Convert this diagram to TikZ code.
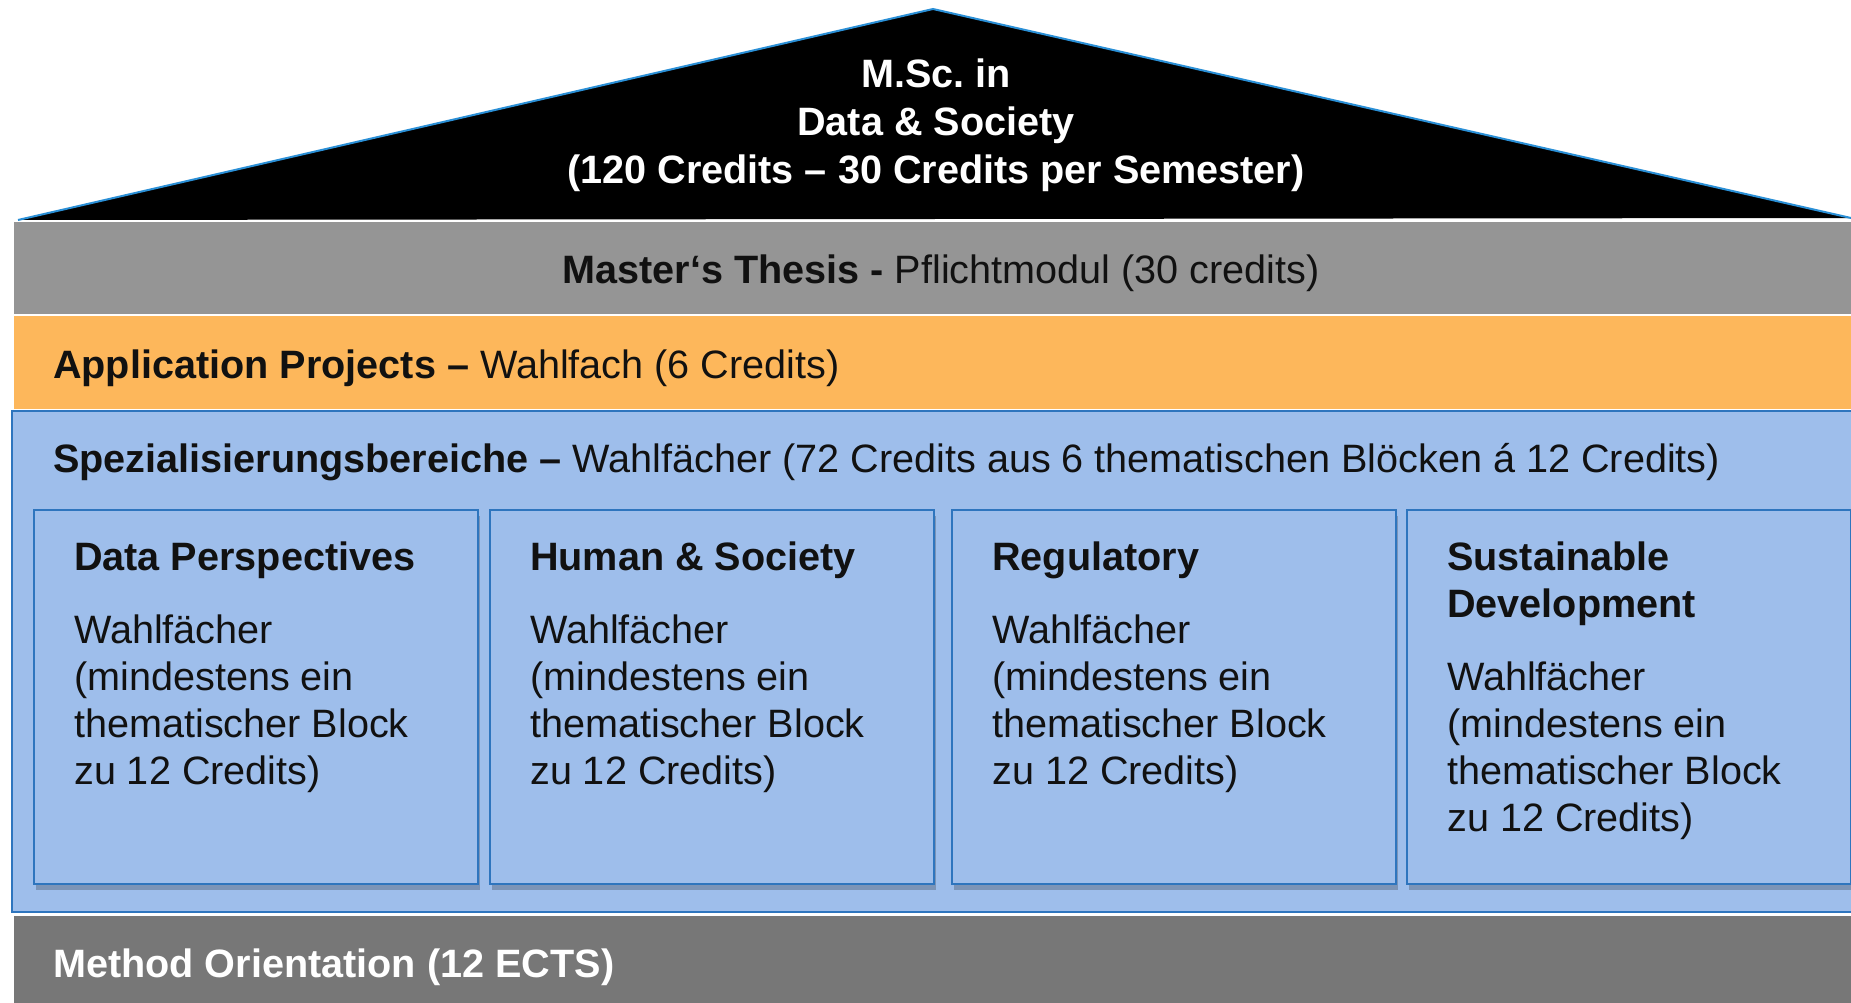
\documentclass[tikz,border=0pt]{standalone}
\usepackage{fontspec}
\setmainfont{Liberation Sans}
\usetikzlibrary{shadows}
\frenchspacing
\definecolor{txt}{HTML}{111111}
\definecolor{roofblue}{HTML}{2A8FD6}
\definecolor{thesisgray}{HTML}{959595}
\definecolor{apporange}{HTML}{FDB75B}
\definecolor{bluefill}{HTML}{9EBEEB}
\definecolor{blueborder}{HTML}{2E75BE}
\definecolor{methodgray}{HTML}{777777}
\newcommand\mystrut{\rule{0pt}{32pt}}
\tikzset{
  lbl/.style={inner sep=0pt, text=txt, font=\fontsize{39.6}{47}\selectfont},
  blk/.style={draw=blueborder, fill=bluefill, line width=2.2pt, minimum width=444pt, minimum height=374pt, anchor=north west, inner sep=0pt,
    drop shadow={shadow xshift=2pt, shadow yshift=-6pt, opacity=0.22, fill=black}},
  blktext/.style={lbl, align=left, anchor=north west}
}
\begin{document}
\begin{tikzpicture}[x=1pt,y=-1pt]
\useasboundingbox (0,0) rectangle (1851,1003);
\fill[white] (0,0) rectangle (1851,1003);
% roof
\filldraw[fill=black, draw=roofblue, line width=2pt] (18,220) -- (933,9) -- (1851,218);
\node[lbl, anchor=north, align=center, text=white, font=\fontsize{39.6}{48}\selectfont\bfseries] (roof) at (936,55)
  {\mystrut M.Sc. in\\Data \& Society\\(120 Credits – 30 Credits per Semester)};
% bands
\fill[thesisgray] (14,222) rectangle (1851,314);
\node[lbl, anchor=base] (thesis) at (941,283) {\textbf{Master‘s Thesis -} Pflichtmodul (30 credits)};
\fill[apporange] (14,316) rectangle (1851,409);
\node[lbl, anchor=base west] (app) at (53,378) {\textbf{Application Projects –} Wahlfach (6 Credits)};
\filldraw[fill=bluefill, draw=blueborder, line width=2pt] (12,411) rectangle (1875,912);
\node[lbl, anchor=base west] (spez) at (53,472) {\textbf{Spezialisierungsbereiche –} Wahlfächer (72 Credits aus 6 thematischen Blöcken á 12 Credits)};
\fill[methodgray] (14,916) rectangle (1851,1003);
\node[lbl, anchor=base west, text=white] (method) at (53,977) {\textbf{Method Orientation (12 ECTS)}};
% blocks
\node[blk] (b1) at (33,509) {};
\node[blk] (b2) at (489,509) {};
\node[blk] (b3) at (951,509) {};
\node[blk] (b4) at (1406,509) {};
\node[blktext] (t1) at (74,538) {\mystrut\textbf{Data Perspectives}\\[26pt]Wahlfächer\\(mindestens ein\\thematischer Block\\zu 12 Credits)};
\node[blktext] (t2) at (530,538) {\mystrut\textbf{Human \& Society}\\[26pt]Wahlfächer\\(mindestens ein\\thematischer Block\\zu 12 Credits)};
\node[blktext] (t3) at (992,538) {\mystrut\textbf{Regulatory}\\[26pt]Wahlfächer\\(mindestens ein\\thematischer Block\\zu 12 Credits)};
\node[blktext] (t4) at (1447,538) {\mystrut\textbf{Sustainable}\\\textbf{Development}\\[26pt]Wahlfächer\\(mindestens ein\\thematischer Block\\zu 12 Credits)};
\end{tikzpicture}
\end{document}
